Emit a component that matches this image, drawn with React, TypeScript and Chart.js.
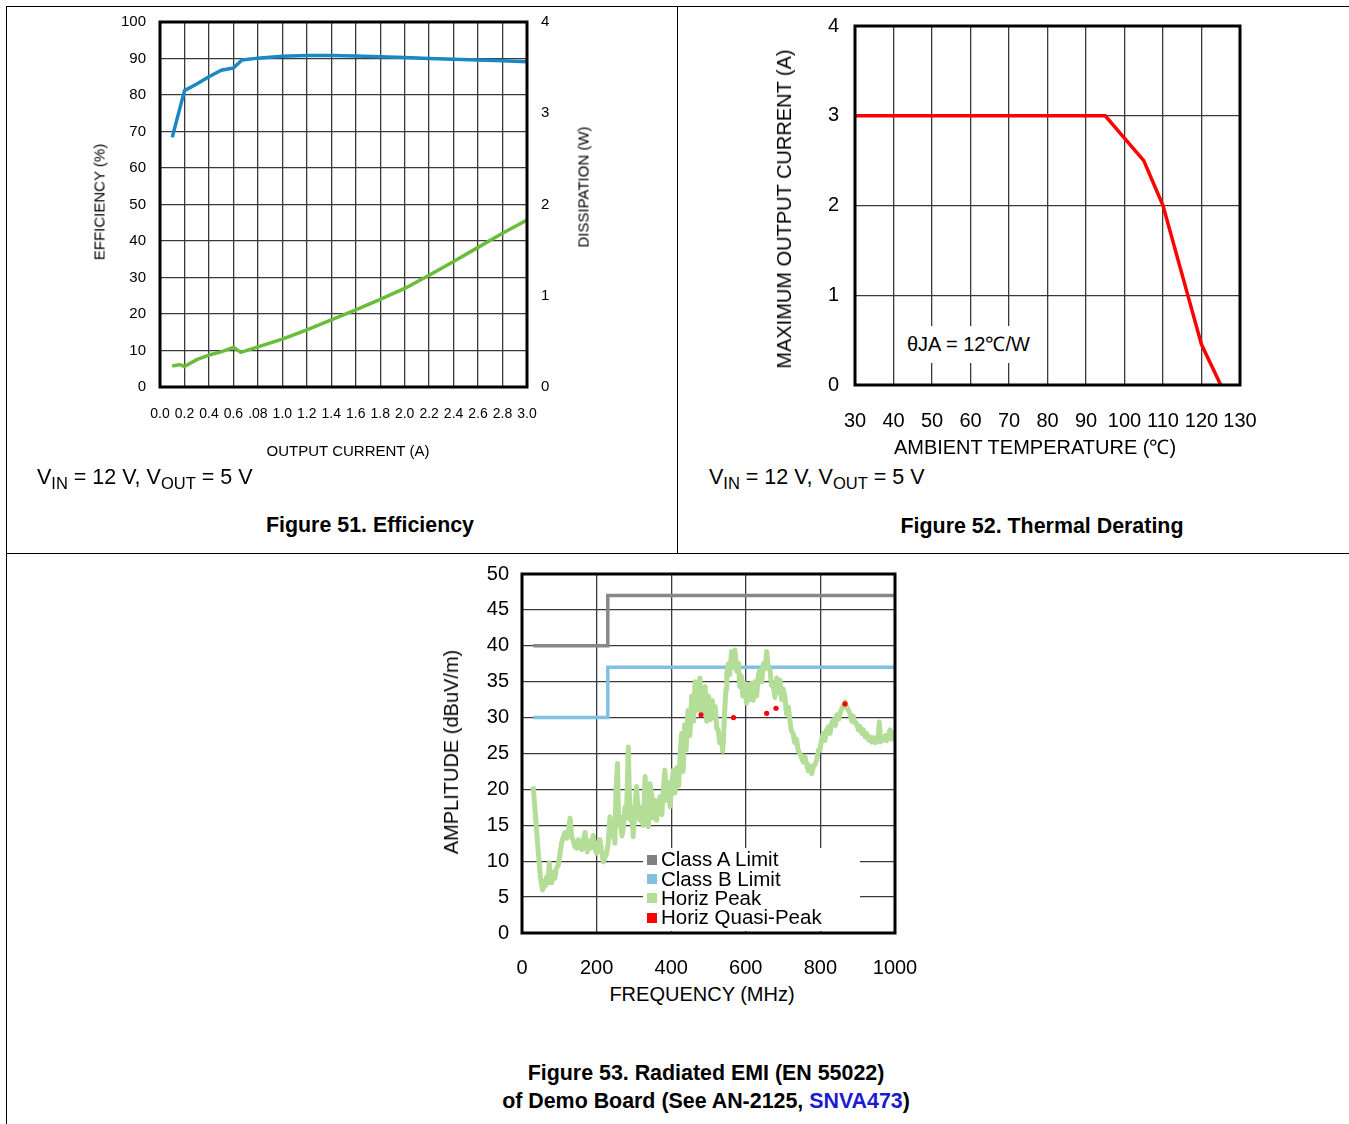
import React, { useEffect, useRef } from 'react';
import { Chart, registerables } from 'chart.js';

Chart.register(...registerables);

const FONT = '"Liberation Sans", Arial, Helvetica, sans-serif';

// ---------- Figure 51: Efficiency ----------
const effCurrent = [0.1, 0.2, 0.3, 0.4, 0.5, 0.6, 0.67, 0.8, 1.0, 1.2, 1.4, 1.6, 1.8, 2.0, 2.2, 2.4, 2.6, 2.8, 3.0];
const effValues = [68.4, 81.2, 83.0, 85.0, 86.8, 87.4, 89.6, 90.1, 90.6, 90.8, 90.8, 90.7, 90.5, 90.3, 90.0, 89.8, 89.6, 89.4, 89.1];
const dissCurrent = [0.1, 0.16, 0.2, 0.3, 0.4, 0.5, 0.6, 0.66, 0.8, 1.0, 1.2, 1.4, 1.6, 1.8, 2.0, 2.2, 2.4, 2.6, 2.8, 3.0];
const dissValues = [0.23, 0.245, 0.225, 0.3, 0.35, 0.385, 0.435, 0.38, 0.44, 0.525, 0.625, 0.735, 0.845, 0.96, 1.08, 1.225, 1.375, 1.53, 1.685, 1.83];
const effXTickLabels = ['0.0', '0.2', '0.4', '0.6', '.08', '1.0', '1.2', '1.4', '1.6', '1.8', '2.0', '2.2', '2.4', '2.6', '2.8', '3.0'];

// ---------- Figure 52: Thermal derating ----------
const derateTemp = [30, 95, 105, 110, 120, 125];
const derateCurrent = [3, 3, 2.5, 2, 0.45, 0];

// ---------- Figure 53: Radiated EMI ----------
const limitFreq = [30, 230, 1000];
const classALimit = [40, 47, 47];
const classBLimit = [30, 37, 37];
const horizPeak: [number, number][] = [
  [30, 20.4], [33, 18.5], [38, 15], [44, 11], [50, 7.5], [55, 6.0], [58, 7.2], [62, 6.5], [66, 7.8], [70, 7.0],
  [73, 9.8], [76, 7.5], [80, 7.0], [84, 8.5], [88, 7.6], [92, 9.0], [97, 9.4], [102, 11.0], [106, 12.5], [110, 13.3],
  [115, 14.0], [120, 13.2], [125, 14.3], [129, 16.0], [133, 13.4], [138, 12.8], [142, 12.0], [147, 11.8], [151, 13.0], [155, 12.7],
  [160, 11.6], [165, 13.0], [169, 14.0], [172, 12.2], [175, 11.3], [180, 12.8], [184, 11.8], [188, 13.0], [191, 13.6], [195, 12.0],
  [200, 11.1], [204, 12.4], [209, 13.0], [213, 11.5], [218, 9.9], [222, 10.5], [227, 11.1], [231, 12.5], [236, 16.2], [240, 13.5],
  [245, 14.5], [249, 12.5], [252, 20.0], [256, 23.6], [259, 15.0], [263, 16.2], [268, 13.5], [272, 14.8], [276, 17.5], [280, 16.0],
  [285, 25.9], [288, 19.0], [291, 15.7], [294, 17.5], [298, 13.4], [302, 16.5], [307, 20.4], [311, 17.0], [316, 15.7], [320, 17.5],
  [325, 15.0], [330, 21.8], [334, 17.0], [339, 14.8], [343, 20.8], [348, 19.0], [352, 16.0], [356, 18.5], [361, 15.7], [365, 18.0],
  [370, 19.0], [375, 16.5], [379, 20.0], [383, 22.7], [387, 18.5], [392, 21.0], [397, 17.6], [401, 20.5], [406, 22.7], [410, 19.5],
  [415, 23.0], [420, 20.5], [424, 25.0], [428, 27.8], [432, 22.5], [436, 29.0], [440, 25.5], [445, 31.0], [450, 27.5], [455, 33.0],
  [460, 29.5], [464, 35.0], [468, 31.0], [472, 34.5], [477, 35.5], [481, 30.5], [485, 34.0], [491, 34.3], [495, 29.5], [500, 33.0],
  [505, 29.7], [510, 32.4], [513, 30.0], [518, 31.5], [522, 28.5], [526, 28.3], [530, 26.5], [534, 27.5], [538, 25.3], [541, 28.0],
  [544, 31.5], [547, 34.0], [549, 36.2], [553, 37.5], [557, 36.0], [562, 39.2], [566, 37.0], [571, 39.4], [575, 36.5], [580, 37.6],
  [584, 34.3], [588, 35.8], [592, 33.0], [597, 34.8], [602, 32.0], [606, 34.5], [611, 32.5], [616, 34.8], [620, 32.4], [625, 35.0],
  [629, 33.0], [634, 36.0], [638, 36.6], [643, 35.0], [647, 37.5], [652, 36.8], [656, 39.2], [660, 37.0], [665, 36.6], [669, 34.5],
  [674, 34.3], [678, 32.8], [683, 35.5], [687, 33.5], [692, 35.2], [696, 32.5], [700, 34.0], [705, 32.9], [709, 30.5], [714, 31.5],
  [718, 29.7], [722, 28.2], [727, 27.8], [731, 26.5], [736, 27.0], [740, 25.5], [745, 25.0], [749, 24.5], [754, 23.8], [758, 24.6],
  [763, 23.6], [767, 22.6], [772, 23.3], [777, 22.2], [781, 23.2], [786, 23.5], [790, 24.1], [795, 25.5], [799, 25.5], [803, 26.9],
  [808, 27.8], [812, 26.8], [817, 28.3], [821, 28.7], [826, 27.8], [830, 29.2], [835, 29.7], [840, 28.9], [844, 30.4], [849, 29.8],
  [853, 30.6], [857, 31.2], [861, 31.6], [866, 32.2], [870, 31.5], [875, 31.0], [879, 30.6], [884, 29.5], [888, 30.2], [893, 29.2],
  [897, 29.2], [902, 28.3], [906, 28.8], [911, 27.8], [915, 28.3], [920, 27.3], [924, 27.8], [929, 26.9], [933, 27.3], [938, 26.6],
  [942, 27.2], [947, 26.5], [951, 26.9], [955, 27.5], [958, 29.4], [961, 26.6], [965, 27.2], [969, 26.9], [974, 27.5], [978, 26.8],
  [983, 27.6], [987, 28.3], [991, 27.0], [996, 27.8], [1000, 27.5],
];
const qpFreq = [480, 567, 656, 681, 866];
const qpAmp = [30.4, 30.0, 30.6, 31.3, 31.9];

const legendItems = [
  { label: 'Class A Limit', color: '#808080' },
  { label: 'Class B Limit', color: '#80c0e0' },
  { label: 'Horiz Peak', color: '#b4dd98' },
  { label: 'Horiz Quasi-Peak', color: '#ff0000' },
];

const pts = (xs: number[], ys: number[]) => xs.map((x, i) => ({ x, y: ys[i] }));

const framePlugin = {
  id: 'frame',
  afterDatasetsDraw(chart: any) {
    const { ctx, chartArea: a } = chart;
    ctx.save();
    ctx.strokeStyle = '#000';
    ctx.lineWidth = 3;
    ctx.strokeRect(a.left, a.top, a.right - a.left, a.bottom - a.top);
    ctx.restore();
  },
};

const fixSize = (dim: 'width' | 'height', v: number) => (s: any) => {
  s[dim] = v;
  s.paddingTop = 0;
  s.paddingBottom = 0;
  s.paddingLeft = 0;
  s.paddingRight = 0;
};

function axis(size: number, padding: number, extra: any = {}) {
  return {
    border: { display: false },
    grid: { color: '#3a3a3a', lineWidth: 1.3, drawTicks: false },
    ...extra,
    ticks: {
      color: '#000',
      font: { family: FONT, size },
      padding,
      autoSkip: false,
      maxRotation: 0,
      minRotation: 0,
      ...(extra.ticks || {}),
    },
  };
}

const baseOptions = (padding: any) => ({
  responsive: false,
  animation: false,
  events: [],
  layout: { padding },
  plugins: { legend: { display: false }, tooltip: { enabled: false } },
});

function makeFig51(): any {
  return {
    type: 'line',
    data: {
      datasets: [
        { data: pts(effCurrent, effValues), yAxisID: 'y', borderColor: '#1b88c6', borderWidth: 3.5, pointRadius: 0, tension: 0, borderJoinStyle: 'round' },
        { data: pts(dissCurrent, dissValues), yAxisID: 'y1', borderColor: '#69bd3a', borderWidth: 3.5, pointRadius: 0, tension: 0, borderJoinStyle: 'round' },
      ],
    },
    options: {
      ...baseOptions({ top: 14, left: 0, right: 0, bottom: 0 }),
      scales: {
        x: {
          type: 'linear', min: 0, max: 3,
          ...axis(14, 19, { ticks: { stepSize: 0.2, callback: (v: number) => effXTickLabels[Math.round(v / 0.2)] } }),
          afterFit: fixSize('height', 81),
        },
        y: {
          type: 'linear', min: 0, max: 100, position: 'left',
          ...axis(15, 14, { ticks: { stepSize: 10 } }),
          afterFit: fixSize('width', 100),
        },
        y1: {
          type: 'linear', min: 0, max: 4, position: 'right',
          ...axis(15, 14, { ticks: { stepSize: 1 } }),
          grid: { display: false, drawTicks: false },
          afterFit: fixSize('width', 113),
        },
      },
    },
    plugins: [framePlugin],
  };
}

function makeFig52(): any {
  return {
    type: 'line',
    data: {
      datasets: [
        { data: pts(derateTemp, derateCurrent), borderColor: '#ff0000', borderWidth: 3.5, pointRadius: 0, tension: 0 },
      ],
    },
    options: {
      ...baseOptions({ top: 18, left: 0, right: 70, bottom: 0 }),
      scales: {
        x: {
          type: 'linear', min: 30, max: 130,
          ...axis(20, 24, { ticks: { stepSize: 10 } }),
          afterFit: fixSize('height', 63),
        },
        y: {
          type: 'linear', min: 0, max: 4,
          ...axis(20, 16, { ticks: { stepSize: 1 } }),
          afterFit: fixSize('width', 165),
        },
      },
    },
    plugins: [framePlugin],
  };
}

function makeFig53(): any {
  return {
    type: 'line',
    data: {
      datasets: [
        { data: pts(qpFreq, qpAmp), showLine: false, pointRadius: 2.6, pointBackgroundColor: '#ff0000', pointBorderWidth: 0, order: 0 },
        { data: horizPeak.map(([x, y]) => ({ x, y })), borderColor: '#b4dd98', borderWidth: 5, pointRadius: 0, tension: 0, borderJoinStyle: 'round', order: 1 },
        { data: pts(limitFreq, classALimit), borderColor: '#888888', borderWidth: 3.5, pointRadius: 0, stepped: 'before', order: 3 },
        { data: pts(limitFreq, classBLimit), borderColor: '#80c0e0', borderWidth: 3.5, pointRadius: 0, stepped: 'before', order: 3 },
      ],
    },
    options: {
      ...baseOptions({ top: 14, left: 0, right: 45, bottom: 0 }),
      scales: {
        x: {
          type: 'linear', min: 0, max: 1000,
          ...axis(20, 23, { ticks: { stepSize: 200, callback: (v: number) => String(v) } }),
          afterFit: fixSize('height', 47),
        },
        y: {
          type: 'linear', min: 0, max: 50,
          ...axis(20, 13, { ticks: { stepSize: 5, callback: (v: number) => String(v) } }),
          afterFit: fixSize('width', 102),
        },
      },
    },
    plugins: [framePlugin],
  };
}

function ChartBox({ left, top, width, height, make }: any) {
  const ref = useRef<HTMLCanvasElement>(null);
  useEffect(() => {
    const chart = new Chart(ref.current as HTMLCanvasElement, make());
    return () => chart.destroy();
  }, []);
  return (
    <canvas ref={ref} width={width} height={height}
      style={{ position: 'absolute', left, top, width, height, display: 'block' }} />
  );
}

function Label({ x, y, size, bold, rotate, align = 'center', color, children }: any) {
  const tx = align === 'center' ? '-50%' : '0';
  return (
    <div style={{
      position: 'absolute', left: x, top: y, fontSize: size, fontWeight: bold ? 'bold' : 'normal',
      lineHeight: 1, whiteSpace: 'nowrap', color: color || '#000',
      transform: `translate(${tx},-50%)${rotate ? ' rotate(-90deg)' : ''}`,
    }}>{children}</div>
  );
}

const Sub = ({ children }: any) => (
  <span style={{ fontSize: 16.5, position: 'relative', top: 5 }}>{children}</span>
);

function VinLine({ x, y }: any) {
  return (
    <Label x={x} y={y} size={21.5} align="start">
      V<Sub>IN</Sub> = 12 V, V<Sub>OUT</Sub> = 5 V
    </Label>
  );
}

export default function App() {
  return (
    <div style={{
      position: 'absolute', left: 0, top: 0, width: 1349, height: 1124, background: '#fff',
      fontFamily: FONT, color: '#000', overflow: 'hidden',
    }}>
      {/* frame lines */}
      <div style={{ position: 'absolute', left: 6, top: 6, width: 1343, height: 1, background: '#000' }} />
      <div style={{ position: 'absolute', left: 6, top: 6, width: 1, height: 1118, background: '#000' }} />
      <div style={{ position: 'absolute', left: 677, top: 6, width: 1, height: 548, background: '#000' }} />
      <div style={{ position: 'absolute', left: 6, top: 553, width: 1343, height: 1, background: '#000' }} />

      {/* Figure 51 */}
      <ChartBox left={60} top={8} width={580} height={460} make={makeFig51} />
      <Label x={99} y={202} size={15} rotate>EFFICIENCY (%)</Label>
      <Label x={583} y={187} size={15} rotate>DISSIPATION (W)</Label>
      <Label x={348} y={450} size={15}>OUTPUT CURRENT (A)</Label>
      <VinLine x={37} y={478} />
      <Label x={370} y={526} size={21.4} bold>Figure 51. Efficiency</Label>

      {/* Figure 52 */}
      <ChartBox left={690} top={8} width={620} height={440} make={makeFig52} />
      <Label x={784} y={209} size={20} rotate>MAXIMUM OUTPUT CURRENT (A)</Label>
      <Label x={1035} y={447} size={20}>AMBIENT TEMPERATURE (℃)</Label>
      <div style={{ position: 'absolute', left: 900, top: 326, width: 140, height: 37, background: '#fff' }} />
      <Label x={907} y={344} size={20} align="start">θJA = 12℃/W</Label>
      <VinLine x={709} y={478} />
      <Label x={1042} y={527} size={21.4} bold>Figure 52. Thermal Derating</Label>

      {/* Figure 53 */}
      <ChartBox left={420} top={560} width={520} height={420} make={makeFig53} />
      <Label x={451} y={752} size={20} rotate>AMPLITUDE (dBuV/m)</Label>
      <Label x={702} y={994} size={20}>FREQUENCY (MHz)</Label>
      <div style={{ position: 'absolute', left: 643, top: 848, width: 217, height: 83, background: '#fff' }}>
        {legendItems.map((it, i) => (
          <div key={it.label} style={{ position: 'absolute', left: 0, top: 2 + i * 19.3, height: 19.3, display: 'flex', alignItems: 'center', fontSize: 20.5, lineHeight: 1, whiteSpace: 'nowrap' }}>
            <span style={{ display: 'inline-block', width: 10, height: 10, background: it.color, marginLeft: 4, marginRight: 4 }} />
            <span>{it.label}</span>
          </div>
        ))}
      </div>
      <Label x={706} y={1074} size={21.4} bold>Figure 53. Radiated EMI (EN 55022)</Label>
      <Label x={706} y={1102} size={21.4} bold>
        of Demo Board (See AN-2125, <span style={{ color: '#1a1ad0' }}>SNVA473</span>)
      </Label>
    </div>
  );
}
